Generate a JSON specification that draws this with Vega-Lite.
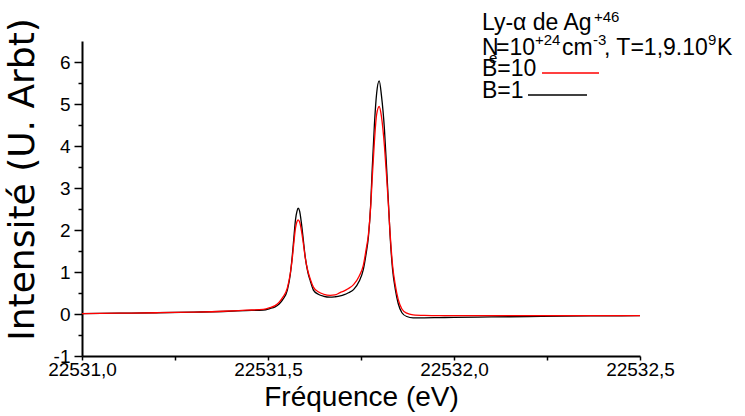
{
  "$schema": "https://vega.github.io/schema/vega-lite/v6.json",
  "width": 558,
  "height": 315,
  "autosize": {"type": "none"},
  "padding": {"left": 82, "top": 41, "right": 105, "bottom": 60},
  "background": "white",
  "config": {"view": {"stroke": null}, "font": "Liberation Sans"},
  "encoding": {
    "x": {
      "field": "x", "type": "quantitative",
      "scale": {"domain": [22531, 22532.5], "nice": false, "zero": false},
      "axis": {
        "title": "Fréquence (eV)",
        "values": [22531, 22531.25, 22531.5, 22531.75, 22532, 22532.25, 22532.5],
        "labelExpr": "(datum.value * 4) % 2 == 0 ? replace(format(datum.value, '.1f'), '.', ',') : ''",
        "grid": false, "tickSize": 4, "tickWidth": 1.5, "tickColor": "black",
        "domainColor": "black", "domainWidth": 2,
        "labelFont": "Liberation Sans", "labelFontSize": 19, "labelColor": "black",
        "labelPadding": 0, "labelFlush": false, "labelOverlap": false,
        "titleFont": "Liberation Sans", "titleFontSize": 28, "titleFontWeight": "normal",
        "titleColor": "black", "titlePadding": 4
      }
    },
    "y": {
      "field": "I", "type": "quantitative",
      "scale": {"domain": [-1, 6.5], "nice": false, "zero": false},
      "axis": {
        "title": "Intensité (U. Arbt)",
        "values": [-1, -0.5, 0, 0.5, 1, 1.5, 2, 2.5, 3, 3.5, 4, 4.5, 5, 5.5, 6],
        "labelExpr": "datum.value % 1 == 0 ? '' + datum.value : ''",
        "grid": false,
        "tickSize": {"condition": {"test": "datum.value % 1 == 0", "value": 8}, "value": 4},
        "tickWidth": 1.5, "tickColor": "black",
        "domainColor": "black", "domainWidth": 2,
        "labelFont": "Liberation Sans", "labelFontSize": 19, "labelColor": "black",
        "labelPadding": 4, "labelBaseline": "middle", "labelOverlap": false, "labelFlush": false,
        "titleFont": "DejaVu Sans", "titleFontSize": 36, "titleFontWeight": "normal",
        "titleColor": "black", "titlePadding": 12, "titleY": 138
      }
    }
  },
  "layer": [
    {
      "data": {"values": [
        {"x": 22531.00, "I": 0.01, "B": "B=1"},
        {"x": 22531.10, "I": 0.02, "B": "B=1"},
        {"x": 22531.20, "I": 0.03, "B": "B=1"},
        {"x": 22531.30, "I": 0.045, "B": "B=1"},
        {"x": 22531.38, "I": 0.06, "B": "B=1"},
        {"x": 22531.44, "I": 0.08, "B": "B=1"},
        {"x": 22531.487, "I": 0.095, "B": "B=1"},
        {"x": 22531.505, "I": 0.13, "B": "B=1"},
        {"x": 22531.519, "I": 0.17, "B": "B=1"},
        {"x": 22531.530, "I": 0.24, "B": "B=1"},
        {"x": 22531.540, "I": 0.35, "B": "B=1"},
        {"x": 22531.552, "I": 0.57, "B": "B=1"},
        {"x": 22531.560, "I": 0.95, "B": "B=1"},
        {"x": 22531.565, "I": 1.36, "B": "B=1"},
        {"x": 22531.569, "I": 1.76, "B": "B=1"},
        {"x": 22531.574, "I": 2.25, "B": "B=1"},
        {"x": 22531.578, "I": 2.45, "B": "B=1"},
        {"x": 22531.581, "I": 2.52, "B": "B=1"},
        {"x": 22531.585, "I": 2.45, "B": "B=1"},
        {"x": 22531.590, "I": 2.15, "B": "B=1"},
        {"x": 22531.595, "I": 1.76, "B": "B=1"},
        {"x": 22531.600, "I": 1.36, "B": "B=1"},
        {"x": 22531.607, "I": 1.0, "B": "B=1"},
        {"x": 22531.614, "I": 0.78, "B": "B=1"},
        {"x": 22531.622, "I": 0.57, "B": "B=1"},
        {"x": 22531.635, "I": 0.47, "B": "B=1"},
        {"x": 22531.650, "I": 0.42, "B": "B=1"},
        {"x": 22531.667, "I": 0.40, "B": "B=1"},
        {"x": 22531.680, "I": 0.41, "B": "B=1"},
        {"x": 22531.694, "I": 0.43, "B": "B=1"},
        {"x": 22531.705, "I": 0.46, "B": "B=1"},
        {"x": 22531.715, "I": 0.50, "B": "B=1"},
        {"x": 22531.730, "I": 0.58, "B": "B=1"},
        {"x": 22531.745, "I": 0.78, "B": "B=1"},
        {"x": 22531.756, "I": 1.05, "B": "B=1"},
        {"x": 22531.764, "I": 1.45, "B": "B=1"},
        {"x": 22531.770, "I": 1.84, "B": "B=1"},
        {"x": 22531.776, "I": 2.6, "B": "B=1"},
        {"x": 22531.780, "I": 3.43, "B": "B=1"},
        {"x": 22531.786, "I": 4.5, "B": "B=1"},
        {"x": 22531.792, "I": 5.25, "B": "B=1"},
        {"x": 22531.799, "I": 5.55, "B": "B=1"},
        {"x": 22531.805, "I": 5.2, "B": "B=1"},
        {"x": 22531.813, "I": 4.4, "B": "B=1"},
        {"x": 22531.819, "I": 3.45, "B": "B=1"},
        {"x": 22531.824, "I": 2.6, "B": "B=1"},
        {"x": 22531.828, "I": 1.9, "B": "B=1"},
        {"x": 22531.835, "I": 1.05, "B": "B=1"},
        {"x": 22531.842, "I": 0.6, "B": "B=1"},
        {"x": 22531.850, "I": 0.25, "B": "B=1"},
        {"x": 22531.860, "I": 0.03, "B": "B=1"},
        {"x": 22531.873, "I": -0.06, "B": "B=1"},
        {"x": 22531.890, "I": -0.09, "B": "B=1"},
        {"x": 22531.920, "I": -0.09, "B": "B=1"},
        {"x": 22531.960, "I": -0.085, "B": "B=1"},
        {"x": 22532.00, "I": -0.08, "B": "B=1"},
        {"x": 22532.10, "I": -0.07, "B": "B=1"},
        {"x": 22532.20, "I": -0.06, "B": "B=1"},
        {"x": 22532.30, "I": -0.05, "B": "B=1"},
        {"x": 22532.40, "I": -0.045, "B": "B=1"},
        {"x": 22532.50, "I": -0.04, "B": "B=1"},
        {"x": 22531.00, "I": 0.01, "B": "B=10"},
        {"x": 22531.10, "I": 0.02, "B": "B=10"},
        {"x": 22531.20, "I": 0.03, "B": "B=10"},
        {"x": 22531.30, "I": 0.045, "B": "B=10"},
        {"x": 22531.38, "I": 0.065, "B": "B=10"},
        {"x": 22531.44, "I": 0.09, "B": "B=10"},
        {"x": 22531.487, "I": 0.11, "B": "B=10"},
        {"x": 22531.505, "I": 0.15, "B": "B=10"},
        {"x": 22531.519, "I": 0.20, "B": "B=10"},
        {"x": 22531.530, "I": 0.28, "B": "B=10"},
        {"x": 22531.540, "I": 0.40, "B": "B=10"},
        {"x": 22531.552, "I": 0.62, "B": "B=10"},
        {"x": 22531.560, "I": 0.97, "B": "B=10"},
        {"x": 22531.565, "I": 1.30, "B": "B=10"},
        {"x": 22531.569, "I": 1.65, "B": "B=10"},
        {"x": 22531.574, "I": 2.05, "B": "B=10"},
        {"x": 22531.578, "I": 2.20, "B": "B=10"},
        {"x": 22531.581, "I": 2.24, "B": "B=10"},
        {"x": 22531.585, "I": 2.19, "B": "B=10"},
        {"x": 22531.590, "I": 1.98, "B": "B=10"},
        {"x": 22531.595, "I": 1.68, "B": "B=10"},
        {"x": 22531.600, "I": 1.35, "B": "B=10"},
        {"x": 22531.607, "I": 1.03, "B": "B=10"},
        {"x": 22531.614, "I": 0.82, "B": "B=10"},
        {"x": 22531.622, "I": 0.64, "B": "B=10"},
        {"x": 22531.635, "I": 0.53, "B": "B=10"},
        {"x": 22531.650, "I": 0.47, "B": "B=10"},
        {"x": 22531.667, "I": 0.445, "B": "B=10"},
        {"x": 22531.680, "I": 0.455, "B": "B=10"},
        {"x": 22531.694, "I": 0.51, "B": "B=10"},
        {"x": 22531.705, "I": 0.55, "B": "B=10"},
        {"x": 22531.715, "I": 0.60, "B": "B=10"},
        {"x": 22531.730, "I": 0.70, "B": "B=10"},
        {"x": 22531.745, "I": 0.90, "B": "B=10"},
        {"x": 22531.756, "I": 1.15, "B": "B=10"},
        {"x": 22531.764, "I": 1.55, "B": "B=10"},
        {"x": 22531.770, "I": 1.90, "B": "B=10"},
        {"x": 22531.776, "I": 2.55, "B": "B=10"},
        {"x": 22531.780, "I": 3.20, "B": "B=10"},
        {"x": 22531.786, "I": 4.10, "B": "B=10"},
        {"x": 22531.792, "I": 4.75, "B": "B=10"},
        {"x": 22531.799, "I": 4.94, "B": "B=10"},
        {"x": 22531.805, "I": 4.70, "B": "B=10"},
        {"x": 22531.813, "I": 4.00, "B": "B=10"},
        {"x": 22531.819, "I": 3.25, "B": "B=10"},
        {"x": 22531.824, "I": 2.55, "B": "B=10"},
        {"x": 22531.828, "I": 1.95, "B": "B=10"},
        {"x": 22531.835, "I": 1.15, "B": "B=10"},
        {"x": 22531.842, "I": 0.70, "B": "B=10"},
        {"x": 22531.850, "I": 0.35, "B": "B=10"},
        {"x": 22531.860, "I": 0.12, "B": "B=10"},
        {"x": 22531.873, "I": 0.02, "B": "B=10"},
        {"x": 22531.890, "I": -0.02, "B": "B=10"},
        {"x": 22531.920, "I": -0.035, "B": "B=10"},
        {"x": 22531.960, "I": -0.04, "B": "B=10"},
        {"x": 22532.00, "I": -0.04, "B": "B=10"},
        {"x": 22532.10, "I": -0.04, "B": "B=10"},
        {"x": 22532.20, "I": -0.04, "B": "B=10"},
        {"x": 22532.30, "I": -0.04, "B": "B=10"},
        {"x": 22532.40, "I": -0.04, "B": "B=10"},
        {"x": 22532.50, "I": -0.04, "B": "B=10"}
      ]},
      "mark": {"type": "line", "strokeWidth": 1.3, "interpolate": "monotone"},
      "encoding": {
        "color": {"field": "B", "type": "nominal", "scale": {"domain": ["B=1", "B=10"], "range": ["black", "red"]}, "legend": null}
      }
    },
    {
      "data": {"values": [
        {"x": 22532.2366, "x2": 22532.3898, "I": 5.738, "B": "B=10"},
        {"x": 22532.1989, "x2": 22532.3575, "I": 5.214, "B": "B=1"}
      ]},
      "mark": {"type": "rule", "strokeWidth": 1.5},
      "encoding": {
        "x2": {"field": "x2"},
        "color": {"field": "B", "type": "nominal", "scale": {"domain": ["B=1", "B=10"], "range": ["black", "red"]}, "legend": null}
      }
    },
    {
      "data": {"values": [
        {"x": 22532.0753, "I": 6.762, "t": "Ly-α de Ag"},
        {"x": 22532.0753, "I": 6.167, "t": "N"},
        {"x": 22532.1129, "I": 6.167, "t": "=10"},
        {"x": 22532.2903, "I": 6.167, "t": "cm"},
        {"x": 22532.4032, "I": 6.167, "t": ", T=1,9.10"},
        {"x": 22532.7070, "I": 6.167, "t": "K"},
        {"x": 22532.0753, "I": 5.667, "t": "B=10"},
        {"x": 22532.0753, "I": 5.143, "t": "B=1"}
      ]},
      "mark": {"type": "text", "align": "left", "baseline": "alphabetic", "font": "Liberation Sans", "fontSize": 23, "color": "black"},
      "encoding": {"text": {"field": "t"}}
    },
    {
      "data": {"values": [
        {"x": 22532.3763, "I": 6.952, "t": "+46"},
        {"x": 22532.2177, "I": 6.405, "t": "+24"},
        {"x": 22532.3737, "I": 6.405, "t": "-3"},
        {"x": 22532.6828, "I": 6.405, "t": "9"},
        {"x": 22532.0941, "I": 5.976, "t": "e"}
      ]},
      "mark": {"type": "text", "align": "left", "baseline": "alphabetic", "font": "Liberation Sans", "fontSize": 15, "color": "black"},
      "encoding": {"text": {"field": "t"}}
    }
  ]
}
